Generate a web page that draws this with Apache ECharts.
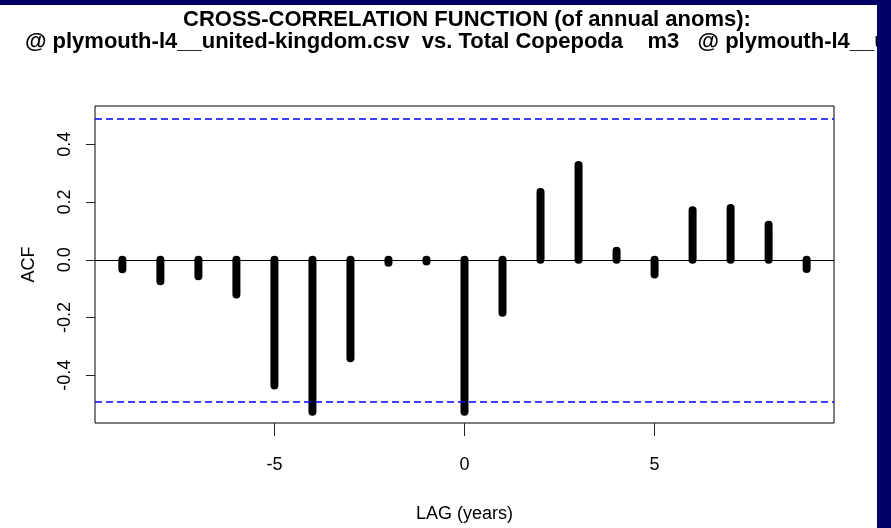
<!DOCTYPE html>
<html>
<head>
<meta charset="utf-8">
<script src="https://cdn.jsdelivr.net/npm/echarts@6/dist/echarts.min.js"></script>
<style>
html,body{margin:0;padding:0;background:#fff;}
#chart{width:891px;height:528px;}
</style>
</head>
<body>
<div id="chart"></div>
<script>
// ---- data ----
const titleLine1 = 'CROSS-CORRELATION FUNCTION (of annual anoms):';
const titleLine2 = '@ plymouth-l4__united-kingdom.csv  vs. Total Copepoda    m3   @ plymouth-l4__u';
const lags = [-9, -8, -7, -6, -5, -4, -3, -2, -1, 0, 1, 2, 3, 4, 5, 6, 7, 8, 9];
const acfValues = [-0.033, -0.074, -0.057, -0.120, -0.435, -0.526, -0.341, -0.010, -0.006,
                   -0.526, -0.183, 0.235, 0.328, 0.031, -0.051, 0.172, 0.179, 0.121, -0.032];
const ciBound = 0.492;
const xTicks = [-5, 0, 5];
const yTicks = [-0.4, -0.2, 0.0, 0.2, 0.4];
const xLabel = 'LAG (years)';
const yLabel = 'ACF';

const chart = echarts.init(document.getElementById('chart'), null, {renderer: 'canvas'});
const FONT = 'Liberation Sans, Arial, Helvetica, sans-serif';
const NAVY = '#000066';

const option = {
  backgroundColor: '#ffffff',
  animation: false,
  title: [
    {text: titleLine1, left: 183, top: 8.8, padding: 0,
     textStyle: {fontFamily: FONT, fontSize: 22, fontWeight: 'bold', color: '#000'}},
    {text: titleLine2, left: 25, top: 30.7, padding: 0,
     textStyle: {fontFamily: FONT, fontSize: 22, fontWeight: 'bold', color: '#000'}}
  ],
  grid: {left: 95, right: 57, top: 106, bottom: 105, show: true,
         borderColor: '#000', borderWidth: 1, backgroundColor: 'transparent', containLabel: false},
  xAxis: {
    type: 'value', min: -9.72, max: 9.72,
    name: xLabel, nameLocation: 'middle', nameGap: 82,
    nameTextStyle: {fontFamily: FONT, fontSize: 18, color: '#000'},
    axisLine: {show: false, onZero: false},
    axisTick: {show: true, inside: false, length: 13, customValues: xTicks,
               lineStyle: {color: '#222', width: 1}},
    axisLabel: {show: true, customValues: xTicks, margin: 33,
                fontFamily: FONT, fontSize: 18, color: '#000',
                formatter: v => String(v)},
    splitLine: {show: false}
  },
  yAxis: {
    type: 'value', min: -0.5652, max: 0.5326,
    name: yLabel, nameLocation: 'middle', nameGap: 57, nameRotate: 90,
    nameTextStyle: {fontFamily: FONT, fontSize: 18, color: '#000'},
    axisLine: {show: false, onZero: false},
    axisTick: {show: true, inside: false, length: 9, customValues: yTicks,
               lineStyle: {color: '#222', width: 1}},
    axisLabel: {show: true, customValues: yTicks, margin: 21, rotate: 90,
                fontFamily: FONT, fontSize: 18, color: '#000',
                formatter: v => v.toFixed(1)},
    splitLine: {show: false}
  },
  series: [
    {
      type: 'custom',
      data: lags.map((l, i) => [l, acfValues[i]]),
      renderItem: function (params, api) {
        const x = api.value(0), y = api.value(1);
        const p0 = api.coord([x, 0]);
        const p1 = api.coord([x, y]);
        return {
          type: 'line',
          shape: {x1: p0[0], y1: p0[1], x2: p1[0], y2: p1[1]},
          style: {stroke: '#000', lineWidth: 8, lineCap: 'round'}
        };
      },
      z: 3,
      markLine: {
        silent: true, symbol: ['none', 'none'], label: {show: false},
        animation: false,
        data: [
          {yAxis: 0, lineStyle: {color: '#000', width: 1, type: 'solid'}},
          {yAxis: ciBound, lineStyle: {color: '#0000ff', width: 1.5, type: [7, 4]}},
          {yAxis: -ciBound, lineStyle: {color: '#0000ff', width: 1.5, type: [7, 4]}}
        ]
      }
    }
  ],
  graphic: [
    {type: 'rect', z: 100, silent: true, shape: {x: 0, y: 0, width: 891, height: 5}, style: {fill: NAVY}},
    {type: 'rect', z: 100, silent: true, shape: {x: 877, y: 0, width: 14, height: 528}, style: {fill: NAVY}}
  ]
};
chart.setOption(option);
</script>
</body>
</html>
